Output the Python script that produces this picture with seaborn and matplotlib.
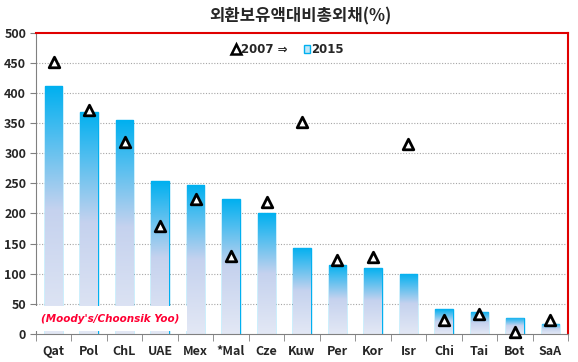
import numpy as np
import pandas as pd
import matplotlib
matplotlib.use('Agg')
import matplotlib.pyplot as plt
import seaborn as sns
from matplotlib.colors import LinearSegmentedColormap

# ======================
# DATA
# ======================
countries = ['Qat', 'Pol', 'ChL', 'UAE', 'Mex', '*Mal', 'Cze', 'Kuw', 'Per', 'Kor',
             'Isr', 'Chi', 'Tai', 'Bot', 'SaA']
debt_2015 = [411, 369, 355, 254, 247, 224, 201, 143, 115, 110, 100, 41, 37, 27, 17]
debt_2007 = [452, 372, 319, 179, 224, 130, 219, 352, 123, 128, 316, 23, 33, 3, 23]

df = pd.DataFrame({'country': countries, 'y2015': debt_2015, 'y2007': debt_2007})

# ======================
# STYLE
# ======================
sns.set_style('white')
plt.rcParams['font.family'] = ['Noto Sans CJK KR', 'DejaVu Sans']

fig = plt.figure(figsize=(5.78, 3.62), dpi=100)
ax = fig.add_axes([0.062, 0.078, 0.921, 0.831])

# bars (2015)
sns.barplot(data=df, x='country', y='y2015', color='#00B0F0', width=0.5,
            edgecolor='#00B0F0', linewidth=1, ax=ax)

# gradient fill inside each bar
grad_cmap = LinearSegmentedColormap.from_list('g', ['#E3E8F5', '#C5D2EE', '#00B0F0'])
for p in ax.patches:
    x0, y0 = p.get_x(), p.get_y()
    w, h = p.get_width(), p.get_height()
    p.set_facecolor('none')
    frac = np.linspace(0, 1, 256).reshape(-1, 1)
    img = ax.imshow(frac, cmap=grad_cmap, aspect='auto', origin='lower',
                    extent=[x0, x0 + w, y0, y0 + h], zorder=1.5)
    img.set_clip_path(p)

# triangles (2007)
sns.scatterplot(data=df, x='country', y='y2007', marker='^', s=58,
                facecolor='white', edgecolor='black', linewidth=2, zorder=5, ax=ax)
ax.collections[-1].set_clip_on(False)

ax.set_xlim(-0.5, len(countries) - 0.5)
ax.set_ylim(0, 500)
ax.set_yticks(np.arange(0, 501, 50))
ax.set_xlabel('')
ax.set_ylabel('')

for v in range(50, 500, 50):
    ax.axhline(v, color='#A6A6A6', linestyle=(0, (1, 1.5)), linewidth=0.8, zorder=0)

ax.tick_params(axis='y', labelsize=9, length=4, direction='out', color='#808080', left=True, pad=3)
ax.tick_params(axis='x', labelsize=9, length=0, pad=8)
ax.set_xticks(np.arange(-0.5, len(countries), 1), minor=True)
ax.tick_params(axis='x', which='minor', length=5, direction='out', color='#808080', bottom=True)
for lbl in ax.get_xticklabels() + ax.get_yticklabels():
    lbl.set_fontweight('bold')

ax.spines['left'].set_color('#808080')
ax.spines['bottom'].set_color('#808080')
ax.spines['top'].set_color('#E00000')
ax.spines['right'].set_color('#E00000')
ax.spines['top'].set_linewidth(1.5)
ax.spines['right'].set_linewidth(1.5)

# title
fig.text(0.52, 0.955, '외환보유액대비총외채(%)', ha='center', va='center',
         fontsize=12, fontweight='bold')

# legend-like text
ax.plot([0.376], [0.945], marker='^', markersize=7, markerfacecolor='white',
        markeredgecolor='black', markeredgewidth=1.8, transform=ax.transAxes,
        clip_on=False, zorder=6)
ax.text(0.386, 0.945, '2007 ⇒', transform=ax.transAxes, ha='left', va='center',
        fontsize=8.5, fontweight='bold', family=['DejaVu Sans'])
ax.add_patch(plt.Rectangle((0.503, 0.932), 0.012, 0.028, transform=ax.transAxes,
                           facecolor='#BFE6F7', edgecolor='#00B0F0', linewidth=1, zorder=6))
ax.text(0.518, 0.945, '2015', transform=ax.transAxes, ha='left', va='center',
        fontsize=8.5, fontweight='bold', family=['DejaVu Sans'])

# source box
ax.text(0.14, 0.05, "(Moody's/Choonsik Yoo)", transform=ax.transAxes, ha='center',
        va='center', fontsize=7.5, fontstyle='italic', fontweight='bold', color='#FF0033',
        family=['DejaVu Sans'], zorder=7,
        bbox=dict(boxstyle='square,pad=0.7', facecolor='white', edgecolor='none'))

fig.savefig('out.png', dpi=100)
